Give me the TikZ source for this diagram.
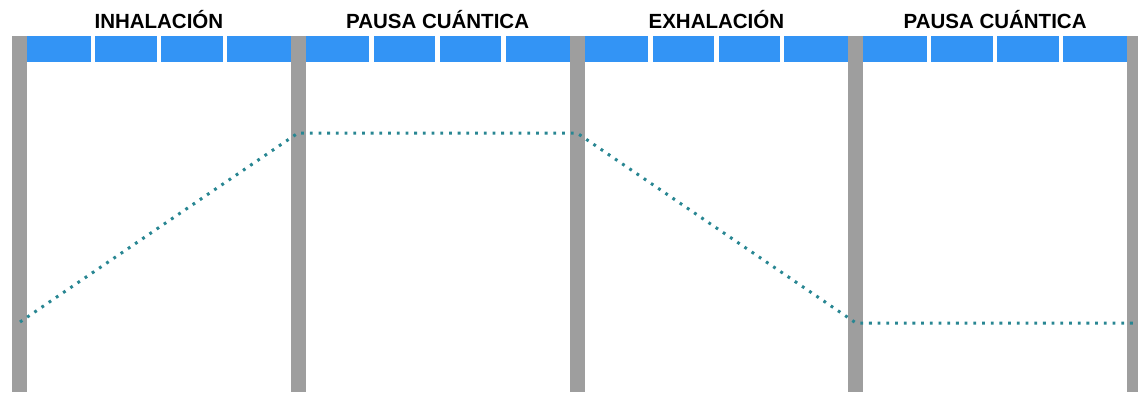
\documentclass[tikz,border=0pt]{standalone}
\usepackage{fontspec}
\setmainfont{Liberation Sans}
\definecolor{barblue}{RGB}{51,148,245}
\definecolor{postgray}{RGB}{158,158,158}
\definecolor{dotteal}{RGB}{40,134,146}
\begin{document}
\begin{tikzpicture}[x=1pt,y=-1pt,
  post/.style={fill=postgray, inner sep=0pt, minimum width=15pt, minimum height=356pt, anchor=north west},
  phase/.style={font=\fontsize{20.5}{20.5}\selectfont\bfseries, text=black, inner sep=0pt, anchor=center},
  breath/.style={draw=dotteal, line width=3pt, dash pattern=on 2.8pt off 5.9pt}]
\useasboundingbox (0,0) rectangle (1138,396);
% blue bar
\fill[barblue] (27,36) rectangle (1138,62);
\foreach \k in {0,1,2,3}{
  \foreach \j in {1,2,3}{
    \fill[white] ({27+278.75*\k+65.9*\j-2.2},36) rectangle +(4.4,26);
  }
}
% posts
\foreach \k in {0,...,4}{
  \node[post] (post\k) at ({12+278.75*\k},36) {};
}
% labels
\node[phase] (l0) at (158.9,19.5) {INHALACIÓN};
\node[phase] (l1) at (437.6,19.5) {PAUSA CUÁNTICA};
\node[phase] (l2) at (716.4,19.5) {EXHALACIÓN};
\node[phase] (l3) at (995.1,19.5) {PAUSA CUÁNTICA};
% breath curve
\coordinate (a) at (20,322);
\coordinate (b) at (298,133);
\coordinate (c) at (577,133);
\coordinate (d) at (856,323);
\coordinate (e) at (1138,323);
\draw[breath] (a) -- (b) -- (c) -- (d) -- (e);
\end{tikzpicture}
\end{document}
